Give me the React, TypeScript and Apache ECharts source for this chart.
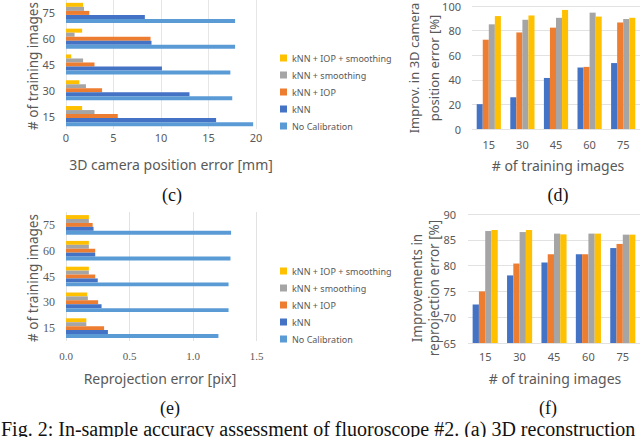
import React, { useEffect, useRef } from 'react';
import * as echarts from 'echarts';

const categories = ['15', '30', '45', '60', '75'];
const NAME_IOP_SMOOTH = 'kNN + IOP + smoothing';
const NAME_SMOOTH = 'kNN + smoothing';
const NAME_IOP = 'kNN + IOP';
const NAME_KNN = 'kNN';
const NAME_NOCAL = 'No Calibration';
const legendNames = [NAME_IOP_SMOOTH, NAME_SMOOTH, NAME_IOP, NAME_KNN, NAME_NOCAL];

// (c) 3D camera position error [mm]
const noCalibC = [19.7, 17.5, 17.3, 17.8, 17.8];
const knnC = [15.8, 13.0, 10.1, 9.0, 8.3];
const knnIopC = [5.45, 3.8, 3.0, 8.9, 2.45];
const knnSmoothC = [3.0, 2.1, 1.8, 0.9, 1.9];
const knnIopSmoothC = [1.7, 1.4, 0.55, 1.7, 1.8];

// (d) Improvement in 3D camera position error [%]
const knnD = [20.2, 25.8, 41.5, 50.0, 53.6];
const knnIopD = [72.6, 78.5, 82.4, 50.5, 86.6];
const knnSmoothD = [85.1, 88.8, 90.4, 94.6, 89.4];
const knnIopSmoothD = [91.8, 92.3, 96.8, 91.4, 90.4];

// (e) Reprojection error [pix]
const noCalibE = [1.2, 1.28, 1.28, 1.295, 1.3];
const knnE = [0.33, 0.28, 0.25, 0.23, 0.217];
const knnIopE = [0.3, 0.253, 0.23, 0.23, 0.21];
const knnSmoothE = [0.16, 0.172, 0.18, 0.18, 0.18];
const knnIopSmoothE = [0.16, 0.167, 0.18, 0.18, 0.18];

// (f) Improvements in reprojection error [%]
const knnF = [72.45, 78.1, 80.6, 82.2, 83.4];
const knnIopF = [75.0, 80.4, 82.2, 82.2, 84.2];
const knnSmoothF = [86.7, 86.5, 86.2, 86.2, 86.0];
const knnIopSmoothF = [86.9, 86.9, 86.05, 86.2, 86.0];

const C_LIGHT = '#5B9BD5';
const C_BLUE = '#4472C4';
const C_ORANGE = '#ED7D31';
const C_GRAY = '#A5A5A5';
const C_YELLOW = '#FFC000';

const SANS = '"Noto Sans", "Open Sans", sans-serif';
const SERIF = '"Liberation Serif", "DejaVu Serif", serif';
const AX = '#595959';
const GRID = '#E2E2E2';

function bar(name: string, data: number[], axisIdx: number, color: string, gap: string) {
  return {
    type: 'bar',
    name,
    data,
    xAxisIndex: axisIdx,
    yAxisIndex: axisIdx,
    barGap: '0%',
    barCategoryGap: gap,
    itemStyle: { color },
    silent: true,
  };
}

function txt(text: string, x: number, y: number, opts: any = {}) {
  return {
    type: 'text',
    x,
    y,
    rotation: opts.rotation || 0,
    silent: true,
    style: {
      text,
      fill: opts.fill || AX,
      fontSize: opts.fontSize || 14,
      fontFamily: opts.fontFamily || SANS,
      align: opts.align || 'center',
      verticalAlign: 'middle',
      lineHeight: opts.lineHeight,
    },
  };
}

const catAxis = (gridIndex: number, margin: number, font = SANS, fontSize = 11) => ({
  type: 'category',
  gridIndex,
  data: categories,
  axisLine: { show: false },
  axisTick: { show: false },
  axisLabel: { color: AX, fontSize, fontFamily: font, margin },
  splitLine: { show: false },
});

const valAxis = (gridIndex: number, min: number, max: number, interval: number, margin: number, opts: any = {}) => ({
  type: 'value',
  gridIndex,
  min,
  max,
  interval,
  axisLine: { show: false },
  axisTick: { show: false },
  axisLabel: {
    color: AX,
    fontSize: opts.fontSize || 11,
    fontFamily: opts.fontFamily || SANS,
    margin,
    formatter: opts.formatter,
  },
  splitLine: { show: true, lineStyle: { color: opts.gridColor || GRID, width: 1 } },
});

const legendBase = {
  orient: 'vertical',
  left: 275,
  data: legendNames,
  icon: 'rect',
  itemWidth: 7,
  itemHeight: 7,
  itemGap: 7,
  selectedMode: false,
  textStyle: { fontSize: 9, color: AX, fontFamily: SANS, lineHeight: 10 },
};

const CAP = { fontFamily: SERIF, fontSize: 18, fill: '#111' };

const option: any = {
  animation: false,
  backgroundColor: '#ffffff',
  grid: [
    { left: 66, top: 0, width: 190, height: 129 },
    { left: 472, top: 6, width: 174, height: 123 },
    { left: 66, top: 212, width: 190.5, height: 129 },
    { left: 468, top: 214, width: 178, height: 129 },
  ],
  xAxis: [
    valAxis(0, 0, 20, 5, 3, { gridColor: '#E6E6E6' }),
    catAxis(1, 10),
    valAxis(2, 0, 1.5, 0.5, 9, { fontFamily: SERIF, fontSize: 11, formatter: (v: number) => v.toFixed(1) }),
    catAxis(3, 8),
  ],
  yAxis: [
    catAxis(0, 11),
    valAxis(1, 0, 100, 20, 11),
    catAxis(2, 11, SERIF, 12),
    valAxis(3, 65, 90, 5, 12),
  ],
  legend: [
    { ...legendBase, top: 48 },
    { ...legendBase, top: 261 },
  ],
  series: [
    bar(NAME_IOP_SMOOTH, knnIopSmoothC, 0, C_YELLOW, '22%'),
    bar(NAME_SMOOTH, knnSmoothC, 0, C_GRAY, '22%'),
    bar(NAME_IOP, knnIopC, 0, C_ORANGE, '22%'),
    bar(NAME_KNN, knnC, 0, C_BLUE, '22%'),
    bar(NAME_NOCAL, noCalibC, 0, C_LIGHT, '22%'),

    bar(NAME_KNN, knnD, 1, C_BLUE, '28%'),
    bar(NAME_IOP, knnIopD, 1, C_ORANGE, '28%'),
    bar(NAME_SMOOTH, knnSmoothD, 1, C_GRAY, '28%'),
    bar(NAME_IOP_SMOOTH, knnIopSmoothD, 1, C_YELLOW, '28%'),

    bar(NAME_IOP_SMOOTH, knnIopSmoothE, 2, C_YELLOW, '24%'),
    bar(NAME_SMOOTH, knnSmoothE, 2, C_GRAY, '24%'),
    bar(NAME_IOP, knnIopE, 2, C_ORANGE, '24%'),
    bar(NAME_KNN, knnE, 2, C_BLUE, '24%'),
    bar(NAME_NOCAL, noCalibE, 2, C_LIGHT, '24%'),

    bar(NAME_KNN, knnF, 3, C_BLUE, '27%'),
    bar(NAME_IOP, knnIopF, 3, C_ORANGE, '27%'),
    bar(NAME_SMOOTH, knnSmoothF, 3, C_GRAY, '27%'),
    bar(NAME_IOP_SMOOTH, knnIopSmoothF, 3, C_YELLOW, '27%'),
  ],
  graphic: [
    // axis titles
    txt('3D camera position error [mm]', 171, 164),
    txt('# of training images', 33, 66, { rotation: Math.PI / 2, fontSize: 13.5 }),
    txt('Improv. in 3D camera\nposition error [%]', 424, 68, { rotation: Math.PI / 2, lineHeight: 20, fontSize: 13 }),
    txt('# of training images', 558, 165),
    txt('Reprojection error [pix]', 160, 378),
    txt('# of training images', 33, 278, { rotation: Math.PI / 2, fontSize: 13.5 }),
    txt('Improvements in\nreprojection error [%]', 425, 288, { rotation: Math.PI / 2, lineHeight: 17, fontSize: 13.5 }),
    txt('# of training images', 555, 378),
    // captions
    txt('(c)', 172, 195, CAP),
    txt('(d)', 558, 195, CAP),
    txt('(e)', 170, 408, CAP),
    txt('(f)', 548, 408, CAP),
    txt('Fig. 2: In-sample accuracy assessment of fluoroscope #2. (a) 3D reconstruction', 1, 429, {
      fontFamily: SERIF,
      fontSize: 20,
      fill: '#111',
      align: 'left',
    }),
  ],
};

export default function App() {
  const ref = useRef<HTMLDivElement>(null);
  useEffect(() => {
    if (!ref.current) return;
    const chart = echarts.init(ref.current, null, { renderer: 'svg' });
    chart.setOption(option);
    return () => chart.dispose();
  }, []);
  return (
    <div
      ref={ref}
      style={{ position: 'absolute', left: 0, top: 0, width: 640, height: 437, background: '#fff' }}
    />
  );
}
